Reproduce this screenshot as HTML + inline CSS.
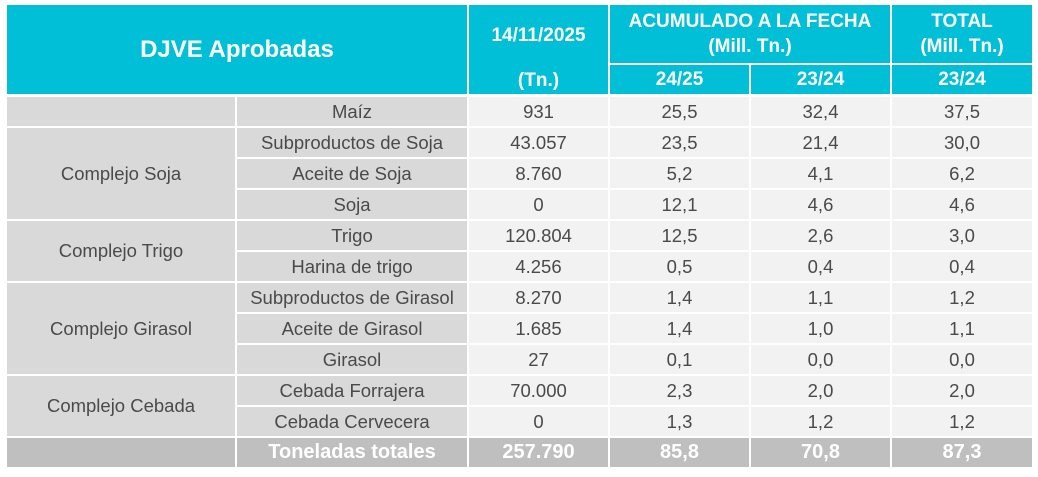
<!DOCTYPE html>
<html><head><meta charset="utf-8"><style>
body{margin:0;width:1038px;height:477px;background:#fff;overflow:hidden;font-family:"Liberation Sans",sans-serif;position:relative}
div{position:absolute;display:flex;align-items:center;justify-content:center;text-align:center;white-space:nowrap;color:#4a4a4a;font-size:18.5px;background:#f2f2f2}
.h{background:#00bfd6;color:#fff;font-weight:bold;font-size:19px;flex-direction:column;line-height:25px}
.g{background:#d9d9d9}
.t{background:#bfbfbf;color:#fff;font-size:20px;font-weight:bold}
.c1{left:7px;width:228px}.c2{left:237px;width:230px}.c3{left:469px;width:139px}.c4{left:610px;width:139px}.c5{left:751px;width:139px}.c6{left:892px;width:140px}
</style></head><body>
<div class="h" style="left:7px;top:5px;width:460px;height:89px;font-size:24px">DJVE Aprobadas</div>
<div class="h" style="left:469px;top:5px;width:139px;height:89px;justify-content:flex-start"><span style="margin-top:18px">14/11/2025</span><span style="margin-top:20px">(Tn.)</span></div>
<div class="h" style="left:610px;top:5px;width:280px;height:58px"><span>ACUMULADO A LA FECHA</span><span>(Mill. Tn.)</span></div>
<div class="h" style="left:892px;top:5px;width:140px;height:58px"><span>TOTAL</span><span>(Mill. Tn.)</span></div>
<div class="h c4" style="top:65px;height:29px">24/25</div>
<div class="h c5" style="top:65px;height:29px">23/24</div>
<div class="h c6" style="top:65px;height:29px">23/24</div>

<div class="g c1" style="top:97px;height:29px"></div>
<div class="g c1" style="top:128px;height:91px">Complejo Soja</div>
<div class="g c1" style="top:221px;height:60px">Complejo Trigo</div>
<div class="g c1" style="top:283px;height:91px">Complejo Girasol</div>
<div class="g c1" style="top:376px;height:60px">Complejo Cebada</div>
<div class="t c1" style="top:438px;height:29px"></div>

<div class="g c2" style="top:97px;height:29px">Maíz</div>
<div class="g c2" style="top:128px;height:29px">Subproductos de Soja</div>
<div class="g c2" style="top:159px;height:29px">Aceite de Soja</div>
<div class="g c2" style="top:190px;height:29px">Soja</div>
<div class="g c2" style="top:221px;height:29px">Trigo</div>
<div class="g c2" style="top:252px;height:29px">Harina de trigo</div>
<div class="g c2" style="top:283px;height:29px">Subproductos de Girasol</div>
<div class="g c2" style="top:314px;height:29px">Aceite de Girasol</div>
<div class="g c2" style="top:345px;height:29px">Girasol</div>
<div class="g c2" style="top:376px;height:29px">Cebada Forrajera</div>
<div class="g c2" style="top:407px;height:29px">Cebada Cervecera</div>
<div class="t c2" style="top:438px;height:29px">Toneladas totales</div>

<div class="c3" style="top:97px;height:29px">931</div><div class="c4" style="top:97px;height:29px">25,5</div><div class="c5" style="top:97px;height:29px">32,4</div><div class="c6" style="top:97px;height:29px">37,5</div>
<div class="c3" style="top:128px;height:29px">43.057</div><div class="c4" style="top:128px;height:29px">23,5</div><div class="c5" style="top:128px;height:29px">21,4</div><div class="c6" style="top:128px;height:29px">30,0</div>
<div class="c3" style="top:159px;height:29px">8.760</div><div class="c4" style="top:159px;height:29px">5,2</div><div class="c5" style="top:159px;height:29px">4,1</div><div class="c6" style="top:159px;height:29px">6,2</div>
<div class="c3" style="top:190px;height:29px">0</div><div class="c4" style="top:190px;height:29px">12,1</div><div class="c5" style="top:190px;height:29px">4,6</div><div class="c6" style="top:190px;height:29px">4,6</div>
<div class="c3" style="top:221px;height:29px">120.804</div><div class="c4" style="top:221px;height:29px">12,5</div><div class="c5" style="top:221px;height:29px">2,6</div><div class="c6" style="top:221px;height:29px">3,0</div>
<div class="c3" style="top:252px;height:29px">4.256</div><div class="c4" style="top:252px;height:29px">0,5</div><div class="c5" style="top:252px;height:29px">0,4</div><div class="c6" style="top:252px;height:29px">0,4</div>
<div class="c3" style="top:283px;height:29px">8.270</div><div class="c4" style="top:283px;height:29px">1,4</div><div class="c5" style="top:283px;height:29px">1,1</div><div class="c6" style="top:283px;height:29px">1,2</div>
<div class="c3" style="top:314px;height:29px">1.685</div><div class="c4" style="top:314px;height:29px">1,4</div><div class="c5" style="top:314px;height:29px">1,0</div><div class="c6" style="top:314px;height:29px">1,1</div>
<div class="c3" style="top:345px;height:29px">27</div><div class="c4" style="top:345px;height:29px">0,1</div><div class="c5" style="top:345px;height:29px">0,0</div><div class="c6" style="top:345px;height:29px">0,0</div>
<div class="c3" style="top:376px;height:29px">70.000</div><div class="c4" style="top:376px;height:29px">2,3</div><div class="c5" style="top:376px;height:29px">2,0</div><div class="c6" style="top:376px;height:29px">2,0</div>
<div class="c3" style="top:407px;height:29px">0</div><div class="c4" style="top:407px;height:29px">1,3</div><div class="c5" style="top:407px;height:29px">1,2</div><div class="c6" style="top:407px;height:29px">1,2</div>
<div class="t c3" style="top:438px;height:29px">257.790</div><div class="t c4" style="top:438px;height:29px">85,8</div><div class="t c5" style="top:438px;height:29px">70,8</div><div class="t c6" style="top:438px;height:29px">87,3</div>
</body></html>
